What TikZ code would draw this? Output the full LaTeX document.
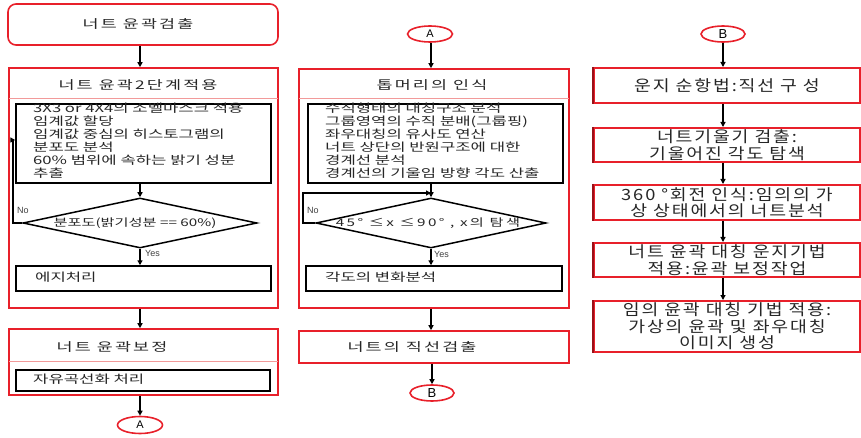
\documentclass[tikz,border=0pt]{standalone}
\usepackage{fontspec}
\usetikzlibrary{shapes.geometric,arrows.meta}
\setmainfont{Liberation Sans}
\newfontfamily\krL[FakeStretch=1.45]{Noto Sans CJK KR}
\newfontfamily\krT[FakeStretch=1.45,LetterSpace=18]{Noto Sans CJK KR}
\newfontfamily\krD[FakeStretch=1.45,LetterSpace=22]{Noto Sans CJK KR}
\newfontfamily\krR[FakeStretch=1.18,LetterSpace=12]{Noto Sans CJK KR}
\definecolor{rd}{HTML}{E8202A}
\definecolor{pk}{HTML}{F29A9A}
\definecolor{drd}{HTML}{9A1018}
\tikzset{
  frame/.style={draw=rd, line width=1.6pt, inner sep=0pt},
  blk/.style={draw=black, line width=1.5pt, inner sep=0pt},
  sep/.style={draw=pk, line width=1pt},
  arr/.style={-{Triangle[length=5pt,width=5pt]}, line width=1.3pt},
  dia/.style={shape=diamond, draw=black, line width=1.5pt, inner sep=0pt},
  ell/.style={shape=ellipse, draw=rd, line width=1.6pt, inner sep=0pt, font=\fontsize{11}{12}\selectfont},
  ttl/.style={inner sep=0pt, font=\krT\fontsize{12}{14}\selectfont, text=black!85},
  ltxt/.style={inner sep=0pt, align=left, font=\krL\fontsize{11.5}{13}\selectfont, text=black!85},
  dtxt/.style={inner sep=0pt, font=\krL\fontsize{10.5}{12}\selectfont, text=black!85},
  yn/.style={inner sep=0pt, anchor=west, font=\fontsize{9}{10}\selectfont, text=black!75},
  rbox/.style={draw=rd, line width=2pt, minimum width=266pt, inner sep=0pt, align=center, font=\krR\fontsize{15.5}{16.5}\selectfont, text=black!85},
}
\begin{document}
\begin{tikzpicture}[x=1pt,y=-1pt]
\useasboundingbox (0,0) rectangle (861,438);
% ---------- column 1 ----------
\node[frame, rounded corners=8pt, minimum width=270pt, minimum height=41pt] (top) at (143,24.5) {};
\node[ttl] (topt) at (138,24) {너트 윤곽검출};
\node[frame, minimum width=269pt, minimum height=240pt] (big1) at (143.5,188) {};
\node[ttl] (big1t) at (138,85) {너트 윤곽2단계적용};
\draw[sep] (9,99) -- (278,99);
\node[blk, minimum width=255pt, minimum height=79pt] (in1) at (143.5,143.5) {};
\node[ltxt, anchor=north west] (in1t) at (33,102.5) {3X3 or 4X4의 소벨마스크 적용\\임계값 할당\\임계값 중심의 히스토그램의\\분포도 분석\\60\% 범위에 속하는 밝기 성분\\추출};
\node[dia, minimum width=234pt, minimum height=50pt] (d1) at (140,223) {};
\node[dtxt] (d1t) at (135,223) {분포도(밝기성분 == 60\%)};
\node[blk, minimum width=255pt, minimum height=25pt] (e1) at (143.5,278.5) {};
\node[ltxt, anchor=west] (e1t) at (35,277.5) {에지처리};
\node[yn] (no1) at (17,210) {No};
\node[yn] (yes1) at (145,253) {Yes};
\coordinate (lp1) at (13,140);
\draw[arr] (top.south -| d1.north) -- (big1.north -| d1.north);
\draw[arr] (in1.south -| d1.north) -- (d1.north);
\draw[arr] (d1.south) -- (e1.north -| d1.south);
\draw[arr] (d1.west) -- (d1.west -| lp1) -- (lp1) -- (lp1 -| in1.west);
\node[frame, minimum width=269pt, minimum height=66pt] (big2) at (143.5,362) {};
\node[ttl] (big2t) at (112,347) {너트 윤곽보정};
\draw[sep] (9,361) -- (278,361);
\node[blk, minimum width=254pt, minimum height=21pt] (in2) at (143,380.5) {};
\node[ltxt, anchor=west] (in2t) at (33,379.5) {자유곡선화 처리};
\draw[arr] (big1.south -| d1.north) -- (big2.north -| d1.north);
\node[ell, minimum width=45pt, minimum height=17pt] (a1) at (140,425) {A};
\draw[arr] (big2.south -| a1.north) -- (a1.north);
% ---------- column 2 ----------
\node[ell, minimum width=45pt, minimum height=16pt] (a2) at (430,34) {A};
\node[frame, minimum width=270pt, minimum height=239pt] (big3) at (434,188.5) {};
\node[ttl] (big3t) at (432,85) {톱머리의 인식};
\draw[sep] (299,99) -- (569,99);
\node[blk, minimum width=255pt, minimum height=79pt] (in3) at (435.5,143.5) {};
\node[ltxt, anchor=north west] (in3t) at (325,102.5) {수직형태의 대칭구조 분석\\그룹영역의 수직 분배(그룹핑)\\좌우대칭의 유사도 연산\\너트 상단의 반원구조에 대한\\경계선 분석\\경계선의 기울임 방향 각도 산출};
\node[dia, minimum width=230pt, minimum height=50pt] (d2) at (431,223) {};
\node[dtxt, font=\krD\fontsize{10.5}{12}\selectfont] (d2t) at (428,223) {45° ≤x ≤90° , x의 탐색};
\node[blk, minimum width=256pt, minimum height=25pt] (e2) at (434,278.5) {};
\node[ltxt, anchor=west] (e2t) at (325,277.5) {각도의 변화분석};
\node[yn] (no2) at (307,210) {No};
\node[yn] (yes2) at (434,254) {Yes};
\coordinate (lp2) at (303,193);
\draw[arr] (a2.south -| d2.north) -- (big3.north -| d2.north);
\draw[arr] (in3.south -| d2.north) -- (d2.north);
\draw[arr] (d2.south) -- (e2.north -| d2.south);
\draw[arr] (d2.west) -- (d2.west -| lp2) -- (lp2) -- (lp2 -| d2.north);
\node[frame, minimum width=270pt, minimum height=32pt] (big4) at (434,347) {};
\node[ttl] (big4t) at (412,347) {너트의 직선검출};
\draw[arr] (big3.south -| d2.north) -- (big4.north -| d2.north);
\node[ell, minimum width=44pt, minimum height=16pt, font=\fontsize{13}{14}\selectfont] (b1) at (432,393) {B};
\draw[arr] (big4.south -| b1.north) -- (b1.north);
% ---------- column 3 ----------
\node[ell, minimum width=44pt, minimum height=16pt, font=\fontsize{13}{14}\selectfont] (b2) at (723,34) {B};
\node[rbox, minimum height=35pt] (r1) at (727,85.5) {운지 순항법:직선 구 성};
\node[rbox, minimum height=34pt] (r2) at (727,145) {너트기울기 검출:\\기울어진 각도 탐색};
\node[rbox, minimum height=35pt] (r3) at (727,202.5) {360 °회전 인식:임의의 가\\상 상태에서의 너트분석};
\node[rbox, minimum height=34pt] (r4) at (727,260) {너트 윤곽 대칭 운지기법\\적용:윤곽 보정작업};
\node[rbox, minimum height=51pt] (r5) at (727,326.5) {임의 윤곽 대칭 기법 적용:\\가상의 윤곽 및 좌우대칭\\이미지 생성};
\foreach \n in {r1,r2,r3,r4,r5} {\draw[drd, line width=2.5pt] (\n.north west) -- (\n.south west);}
\draw[arr] (b2.south) -- (r1.north -| b2.south);
\draw[arr] (r1.south -| b2.south) -- (r2.north -| b2.south);
\draw[arr] (r2.south -| b2.south) -- (r3.north -| b2.south);
\draw[arr] (r3.south -| b2.south) -- (r4.north -| b2.south);
\draw[arr] (r4.south -| b2.south) -- (r5.north -| b2.south);
\end{tikzpicture}
\end{document}
